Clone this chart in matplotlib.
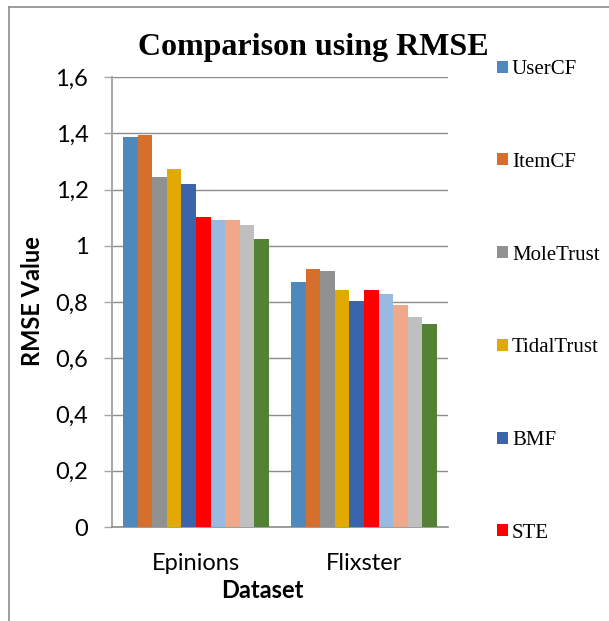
import numpy as np
import matplotlib
matplotlib.use('Agg')
from matplotlib import pyplot as plt
from matplotlib.lines import Line2D

# Data
datasets = ['Epinions', 'Flixster']
methods = ['UserCF', 'ItemCF', 'MoleTrust', 'TidalTrust', 'BMF', 'STE',
           'Series 7', 'Series 8', 'Series 9', 'Series 10']
epinions = [1.387, 1.393, 1.246, 1.274, 1.220, 1.103, 1.092, 1.092, 1.074, 1.023]
flixster = [0.872, 0.917, 0.909, 0.843, 0.805, 0.843, 0.828, 0.790, 0.747, 0.723]
colors = ['#4e89be', '#d4702c', '#919191', '#e2a900', '#3c64ad', '#ff0000',
          '#98b9e0', '#f1a88a', '#bfbfbf', '#548235']
yticks = [0, 0.2, 0.4, 0.6, 0.8, 1.0, 1.2, 1.4, 1.6]
ytick_labels = ['0', '0,2', '0,4', '0,6', '0,8', '1', '1,2', '1,4', '1,6']
n_shown = 6  # only the first six legend entries are visible

fig = plt.figure(figsize=(6.09, 6.21), dpi=100)
ax = fig.add_axes([112 / 609, 1 - 527 / 621, 336 / 609, 450 / 621])

values = np.array([epinions, flixster])
x = np.arange(len(datasets))
group_w = 0.87
bar_w = group_w / len(methods)
handles = []
for i, m in enumerate(methods):
    pos = x - group_w / 2 + bar_w * (i + 0.5)
    b = ax.bar(pos, values[:, i], width=bar_w, color=colors[i], linewidth=0,
               label=m, zorder=3)
    handles.append(b)

ax.set_xlim(-0.5, 1.5)
ax.set_ylim(0, 1.6)
ax.set_yticks(yticks)
ax.set_yticklabels(ytick_labels)
ax.set_xticks(x)
ax.set_xticklabels(datasets)
ax.yaxis.grid(True, color='#8c8c8c', linewidth=1.0, zorder=0)
ax.set_axisbelow(True)
for s in ['top', 'right']:
    ax.spines[s].set_visible(False)
ax.spines['left'].set_color('#a6a6a6')
ax.spines['left'].set_linewidth(1.4)
ax.spines['bottom'].set_color('#8c8c8c')
ax.spines['bottom'].set_linewidth(1.2)
ax.tick_params(axis='y', length=6, width=1.0, color='#a6a6a6', pad=11,
               labelsize=17)
ax.tick_params(axis='x', length=0, pad=19, labelsize=17)
for lab in ax.get_xticklabels() + ax.get_yticklabels():
    lab.set_family('Lato')

fig.text(262 / 609, 1 - 591 / 621, 'Dataset', ha='center', va='center',
         fontsize=17, fontweight='bold', family='Lato')
fig.text(32 / 609, 1 - 301 / 621, 'RMSE Value', ha='center', va='center',
         rotation=90, fontsize=17, fontweight='bold', family='Lato')
fig.text(313 / 609, 1 - 48 / 621, 'Comparison using RMSE', ha='center',
         va='center', fontsize=23, fontweight='bold', family='Liberation Serif')

fig.legend(handles[:n_shown], methods[:n_shown], loc='upper left',
           bbox_to_anchor=(497 / 609, 1 - 60 / 621), frameon=False,
           prop={'family': 'Liberation Serif', 'size': 15},
           labelspacing=3.54, handlelength=0.52, handleheight=0.52,
           handletextpad=0.2, borderpad=0, borderaxespad=0)

# Outer frame fragments (top and left edge)
fig.add_artist(Line2D([9 / 609, 1], [1 - 7 / 621, 1 - 7 / 621],
                      transform=fig.transFigure, color='#8c8c8c', lw=1.2))
fig.add_artist(Line2D([9 / 609, 9 / 609], [0, 1 - 7 / 621],
                      transform=fig.transFigure, color='#8c8c8c', lw=1.2))

fig.savefig('out.png', dpi=100)
plt.close(fig)
